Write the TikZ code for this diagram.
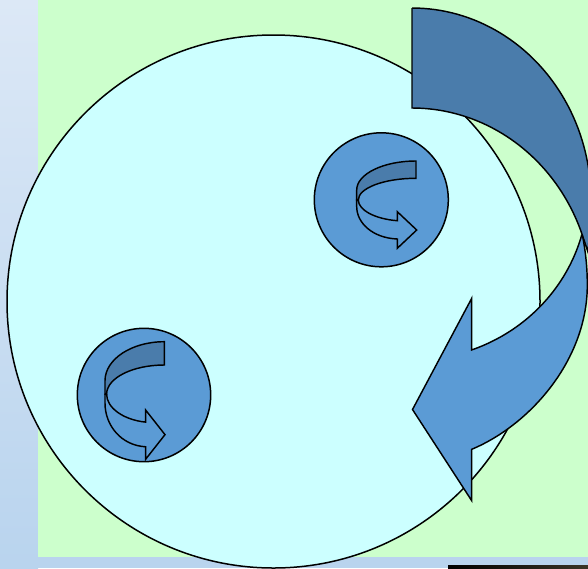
\documentclass[tikz,border=0pt]{standalone}
\definecolor{bggreen}{HTML}{CCFFCC}
\definecolor{bigfill}{HTML}{CCFFFF}
\definecolor{lightb}{HTML}{5B9BD5}
\definecolor{darkb}{HTML}{4A7CAB}
\definecolor{striptop}{HTML}{DCE8F6}
\definecolor{stripbot}{HTML}{B9D4EE}
\definecolor{barright}{HTML}{3A3426}
\newcommand\drawminiarrow{%
  \filldraw[darkb, outl] (59.3,0) -- (59.3,17.3)
    .. controls (27.5,17.3) and (1.6,27) .. (1.6,39)
    -- (0,39) -- (0,29)
    .. controls (0,13) and (26.6,0) .. (59.3,0) -- cycle;
  \filldraw[lightb, outl] (1.6,39)
    .. controls (1.6,49) and (18.3,58) .. (40.6,59.7)
    -- (40.6,50.7) -- (60,69) -- (40.6,87.3) -- (40.6,78)
    .. controls (16,77) and (0,62) .. (0,45.6)
    -- (0,39) -- cycle;
}
\begin{document}
\begin{tikzpicture}[x=1pt,y=-1pt,
  outl/.style={draw=black, line width=1.45pt, line join=miter},
  ring/.style={circle, draw=black, line width=1.5pt, inner sep=0pt}]
\useasboundingbox (0,0) rectangle (588,568);
\begin{scope}
\clip (0,0) rectangle (588,568);
% background
\fill[stripbot] (0,557) rectangle (588,568);
\shade[top color=striptop, bottom color=stripbot] (0,0) rectangle (38,568);
\fill[bggreen] (38,0) rectangle (588,557);
\shade[left color=black, right color=barright] (448,565) rectangle (588,568);
% circles
\node[ring, fill=bigfill, minimum size=533pt] (bigc) at (273.5,301.5) {};
\node[ring, fill=lightb, minimum size=134pt] (cone) at (381.3,199.8) {};
\node[ring, fill=lightb, minimum size=133.4pt] (ctwo) at (144,395) {};
% small turning arrows
\begin{scope}[shift={(356.7,161)}]
  \drawminiarrow
\end{scope}
\begin{scope}[shift={(105,341.7)}, yscale=1.347]
  \drawminiarrow
\end{scope}
% big curved arrow: back band
\filldraw[darkb, outl] (412,8) -- (412,108)
  -- plot[domain=-90:-19.8, samples=50] ({412+181*cos(\x)},{300+192*sin(\x)})
  -- (588,252) -- (591,215)
  -- plot[domain=0:-90, samples=50] ({412+179*cos(\x)},{200+192*sin(\x)})
  -- cycle;
% big curved arrow: front band with head
\filldraw[lightb, outl] (582.3,235)
  -- plot[domain=15.35:70.2, samples=50] ({412+176*cos(\x)},{190+170*sin(\x)})
  -- (471.7,298.3) -- (412.5,409.5) -- (471.7,500.7) -- (471.7,449.3)
  .. controls (530,425) and (587.3,360) .. (587.3,285)
  .. controls (587.3,265) and (585,248) .. (582.3,235) -- cycle;
\end{scope}
\end{tikzpicture}
\end{document}
